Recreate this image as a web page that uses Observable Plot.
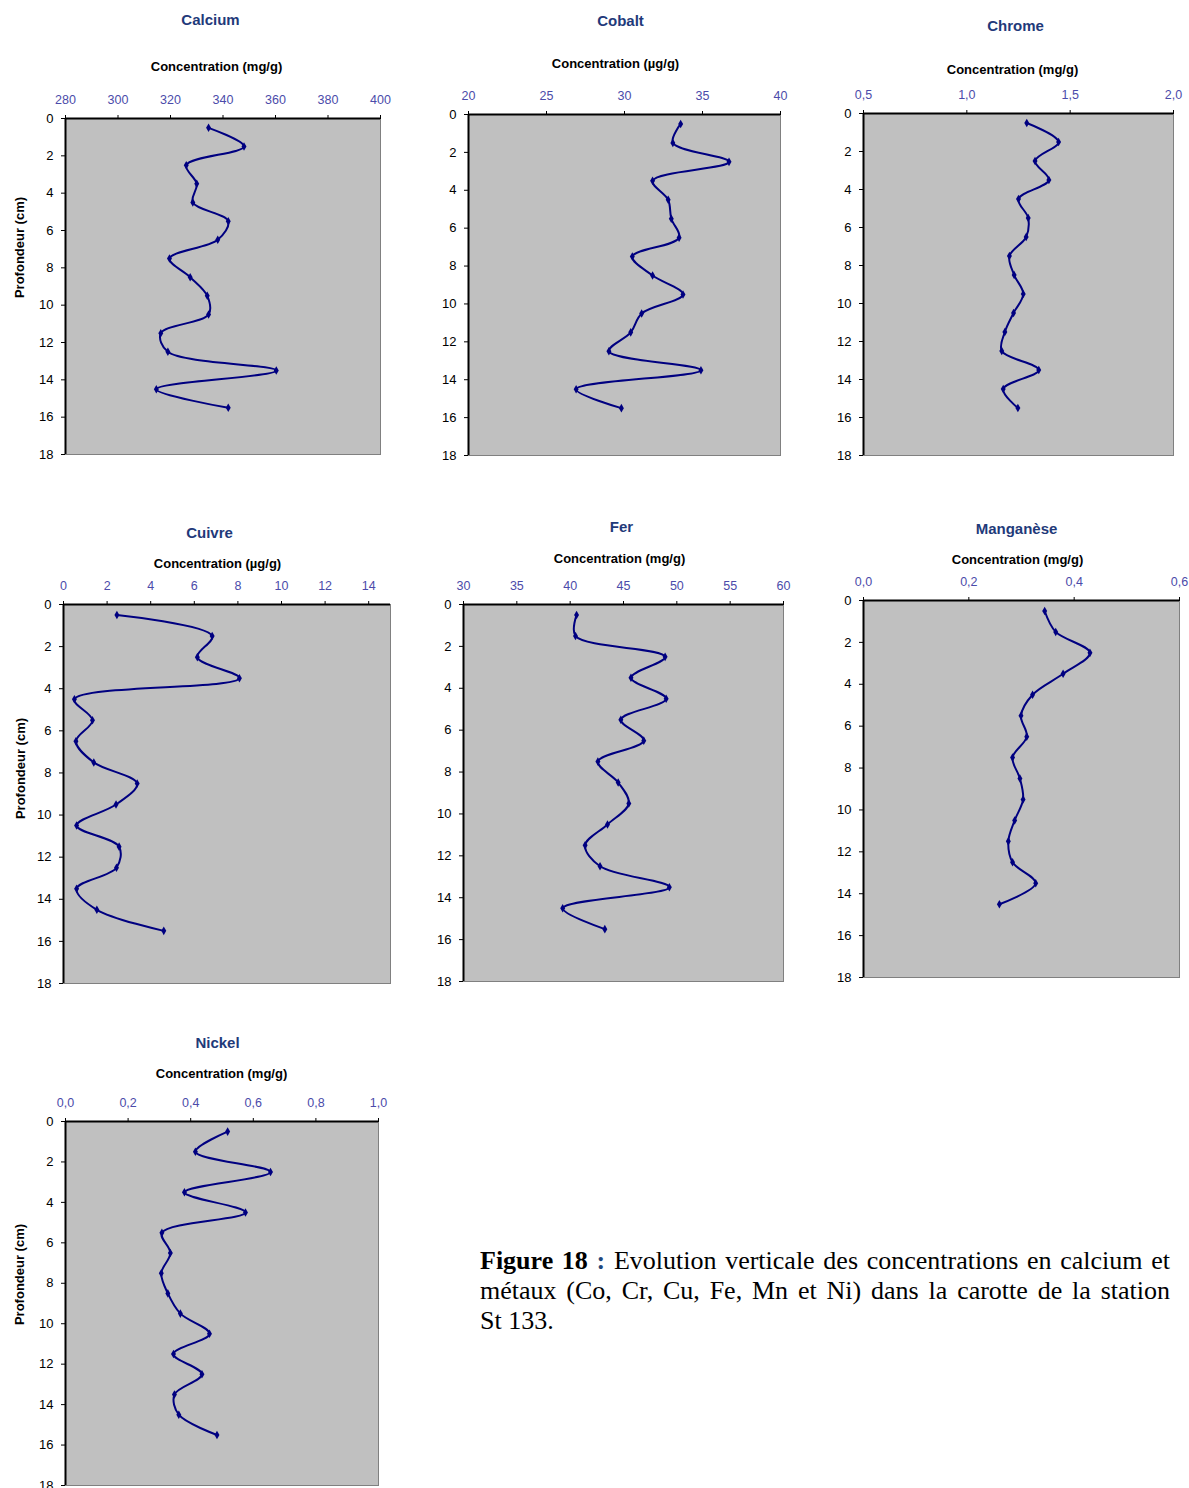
<!DOCTYPE html>
<html>
<head>
<meta charset="utf-8">
<script src="https://cdn.jsdelivr.net/npm/d3@7"></script>
<script src="https://cdn.jsdelivr.net/npm/@observablehq/plot@0.6"></script>
<style>
  html, body { margin: 0; padding: 0; background: #fff; }
  #page { position: relative; width: 1189px; height: 1488px; overflow: hidden; background: #fff; }
  #page svg { position: absolute; overflow: visible; }
  #caption {
    position: absolute; left: 480px; top: 1246px; width: 690px;
    font-family: "Liberation Serif", "Times New Roman", serif;
    font-size: 26px; line-height: 30px; text-align: justify; color: #000;
  }
</style>
</head>
<body>
<div id="page">
  <div id="caption"><b>Figure 18 <span style="color:#1F497D">:</span></b> Evolution verticale des concentrations en calcium et métaux (Co, Cr, Cu, Fe, Mn et Ni) dans la carotte de la station St&nbsp;133.</div>
</div>
<script>
// ---- Data ----
const depths = [0.5, 1.5, 2.5, 3.5, 4.5, 5.5, 6.5, 7.5, 8.5, 9.5, 10.5, 11.5, 12.5, 13.5, 14.5, 15.5];
const depthTicks = [0, 2, 4, 6, 8, 10, 12, 14, 16, 18];

const calcium   = [334.5, 348, 326, 330, 328.5, 342, 338, 319.6, 327.5, 334, 334.5, 316.3, 319, 360.3, 314.6, 342];
const cobalt    = [33.6, 33.1, 36.7, 31.8, 32.8, 33.0, 33.5, 30.5, 31.8, 33.75, 31.1, 30.4, 29.0, 34.9, 26.9, 29.8];
const chrome    = [1.29, 1.444, 1.33, 1.397, 1.25, 1.297, 1.287, 1.206, 1.229, 1.273, 1.226, 1.184, 1.169, 1.348, 1.176, 1.247];
const cuivre    = [2.45, 6.82, 6.14, 8.07, 0.5, 1.33, 0.57, 1.39, 3.38, 2.41, 0.6, 2.55, 2.43, 0.6, 1.53, 4.6];
const fer       = [40.6, 40.5, 48.9, 45.7, 49.0, 44.75, 46.9, 42.6, 44.5, 45.5, 43.5, 41.4, 42.8, 49.3, 39.3, 43.25];
const manganese = [0.344, 0.365, 0.43, 0.379, 0.321, 0.299, 0.31, 0.283, 0.297, 0.303, 0.287, 0.275, 0.283, 0.327, 0.258];
const nickel    = [0.518, 0.415, 0.655, 0.38, 0.575, 0.308, 0.335, 0.306, 0.327, 0.367, 0.46, 0.345, 0.436, 0.348, 0.362, 0.484];

const titles = ["Calcium", "Cobalt", "Chrome", "Cuivre", "Fer", "Manganèse", "Nickel"];
const units  = ["Concentration (mg/g)", "Concentration (µg/g)", "Concentration (mg/g)", "Concentration (µg/g)", "Concentration (mg/g)", "Concentration (mg/g)", "Concentration (mg/g)"];
const xTicks = [
  [280, 300, 320, 340, 360, 380, 400],
  [20, 25, 30, 35, 40],
  [0.5, 1.0, 1.5, 2.0],
  [0, 2, 4, 6, 8, 10, 12, 14],
  [30, 35, 40, 45, 50, 55, 60],
  [0.0, 0.2, 0.4, 0.6],
  [0.0, 0.2, 0.4, 0.6, 0.8, 1.0]
];
const xDomains = [[280, 400], [20, 40], [0.5, 2.0], [0, 15], [30, 60], [0, 0.6], [0, 1.0]];
const tickDecimals = [0, 0, 1, 0, 0, 1, 1];
const series = [calcium, cobalt, chrome, cuivre, fer, manganese, nickel];
const yLabel = "Profondeur (cm)";

// ---- Layout (pixels) ----
// svg box, frame (plot area), title & unit label centers, y-label center (or null)
const layout = [
  {svg: [0, 0, 395, 470],     frame: [65, 380, 118, 454],    title: [210, 20],   unit: [216, 66],   ylab: [19, 247]},
  {svg: [400, 0, 395, 470],   frame: [468, 780, 114, 455],   title: [620, 21],   unit: [615, 63],   ylab: null},
  {svg: [800, 0, 389, 470],   frame: [863, 1173, 113, 455],  title: [1015, 26],  unit: [1012, 69],  ylab: null},
  {svg: [0, 505, 400, 495],   frame: [63, 390, 604, 983],    title: [209, 533],  unit: [217, 563],  ylab: [20, 768]},
  {svg: [400, 505, 400, 495], frame: [463, 783, 604, 981],   title: [621, 527],  unit: [619, 558],  ylab: null},
  {svg: [800, 505, 389, 495], frame: [863, 1179, 600, 977],  title: [1016, 529], unit: [1017, 559], ylab: null},
  {svg: [0, 1025, 400, 475],  frame: [65, 378, 1121, 1485],  title: [217, 1043], unit: [221, 1073], ylab: [19, 1274]}
];

const FONT = "'Liberation Sans', Arial, sans-serif";
const LINE = "#000080";
const TITLE_COLOR = "#1F3A7A";
const TICK_COLOR = "#4B4BAA";

const page = document.getElementById("page");

series.forEach((vals, i) => {
  const L = layout[i];
  const [sx, sy, sw, sh] = L.svg;
  const [fl, fr, ft, fb] = L.frame;
  const data = vals.map((v, j) => ({depth: depths[j], value: v}));
  const fcx = (fl + fr) / 2, fcy = (ft + fb) / 2;
  const dec = tickDecimals[i];
  const fmt = d => d3.format("." + dec + "f")(d).replace(".", ",");

  const marks = [
    Plot.frame({fill: "#C0C0C0", stroke: "#808080", strokeWidth: 1}),
    Plot.ruleY([0], {stroke: "#000", strokeWidth: 2}),
    Plot.ruleX([xDomains[i][0]], {stroke: "#000", strokeWidth: 2}),
    Plot.axisX({anchor: "top", ticks: xTicks[i], tickFormat: fmt, tickSize: 4, tickPadding: 11,
                stroke: "#000", fill: TICK_COLOR, fontSize: 12.5, label: null}),
    Plot.axisY({anchor: "left", ticks: depthTicks, tickFormat: d3.format("d"), tickSize: 4, tickPadding: 8,
                stroke: "#000", fill: "#000", fontSize: 13, label: null}),
    Plot.line(data, {x: "value", y: "depth", curve: "catmull-rom", stroke: LINE, strokeWidth: 2}),
    Plot.dot(data, {x: "value", y: "depth", symbol: "diamond", r: 2.6, fill: LINE, stroke: null}),
    Plot.text([titles[i]], {frameAnchor: "top", dx: L.title[0] - fcx, dy: L.title[1] - ft, lineAnchor: "middle",
               fontSize: 15, fontWeight: "bold", fill: TITLE_COLOR}),
    Plot.text([units[i]], {frameAnchor: "top", dx: L.unit[0] - fcx, dy: L.unit[1] - ft, lineAnchor: "middle",
               fontSize: 13, fontWeight: "bold", fill: "#000"})
  ];
  if (L.ylab) {
    marks.push(Plot.text([yLabel], {frameAnchor: "left", dx: L.ylab[0] - fl, dy: L.ylab[1] - fcy, rotate: -90,
               lineAnchor: "middle", textAnchor: "middle", fontSize: 13, fontWeight: "bold", fill: "#000"}));
  }

  const chart = Plot.plot({
    width: sw, height: sh,
    marginLeft: fl - sx, marginRight: sx + sw - fr,
    marginTop: ft - sy, marginBottom: sy + sh - fb,
    style: {fontFamily: FONT, background: "transparent", overflow: "visible"},
    x: {domain: xDomains[i], axis: null},
    y: {domain: [0, 18], reverse: true, axis: null},
    marks
  });
  chart.style.left = sx + "px";
  chart.style.top = sy + "px";
  page.appendChild(chart);
});
</script>
</body>
</html>
